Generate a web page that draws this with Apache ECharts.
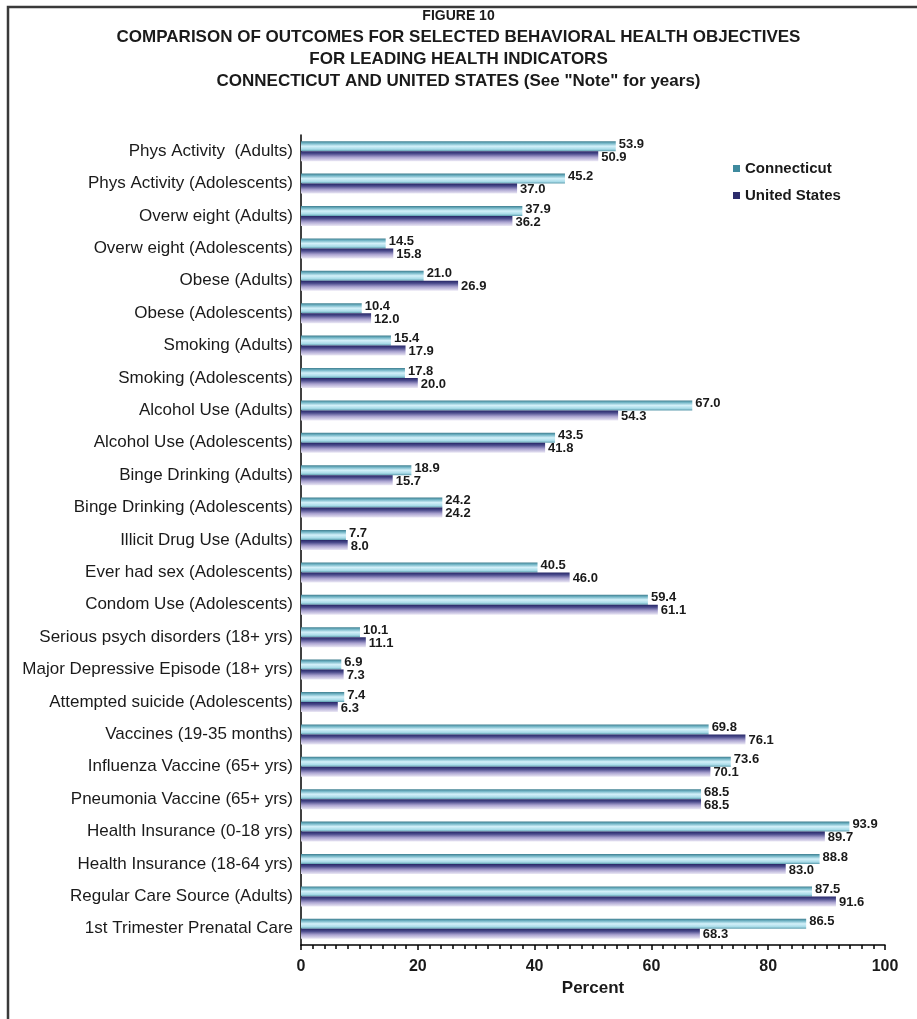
<!DOCTYPE html>
<html>
<head>
<meta charset="utf-8">
<script src="https://cdn.jsdelivr.net/npm/echarts@6/dist/echarts.min.js"></script>
<style>
  html, body { margin: 0; padding: 0; background: #fff; }
  #chart { width: 917px; height: 1019px; }
</style>
</head>
<body>
<div id="chart"></div>
<script>
// Leading health indicator outcomes, Connecticut vs United States (percent)
const categories = [
  'Phys Activity  (Adults)',
  'Phys Activity (Adolescents)',
  'Overw eight (Adults)',
  'Overw eight (Adolescents)',
  'Obese (Adults)',
  'Obese (Adolescents)',
  'Smoking (Adults)',
  'Smoking (Adolescents)',
  'Alcohol Use (Adults)',
  'Alcohol Use (Adolescents)',
  'Binge Drinking (Adults)',
  'Binge Drinking (Adolescents)',
  'Illicit Drug Use (Adults)',
  'Ever had sex (Adolescents)',
  'Condom Use (Adolescents)',
  'Serious psych disorders (18+ yrs)',
  'Major Depressive Episode (18+ yrs)',
  'Attempted suicide (Adolescents)',
  'Vaccines (19-35 months)',
  'Influenza Vaccine (65+ yrs)',
  'Pneumonia Vaccine (65+ yrs)',
  'Health Insurance (0-18 yrs)',
  'Health Insurance (18-64 yrs)',
  'Regular Care Source (Adults)',
  '1st Trimester Prenatal Care'
];
const connecticut = [53.9, 45.2, 37.9, 14.5, 21.0, 10.4, 15.4, 17.8, 67.0, 43.5, 18.9, 24.2, 7.7, 40.5, 59.4, 10.1, 6.9, 7.4, 69.8, 73.6, 68.5, 93.9, 88.8, 87.5, 86.5];
const unitedStates = [50.9, 37.0, 36.2, 15.8, 26.9, 12.0, 17.9, 20.0, 54.3, 41.8, 15.7, 24.2, 8.0, 46.0, 61.1, 11.1, 7.3, 6.3, 76.1, 70.1, 68.5, 89.7, 83.0, 91.6, 68.3];
const seriesNames = ['Connecticut', 'United States'];
const titleLines = [
  'FIGURE 10',
  'COMPARISON OF OUTCOMES FOR SELECTED BEHAVIORAL HEALTH OBJECTIVES',
  'FOR LEADING HEALTH INDICATORS',
  'CONNECTICUT AND UNITED STATES (See "Note" for years)'
];
const axisTitle = 'Percent';

const FONT = '"Liberation Sans", Arial, sans-serif';
const INK = '#1a1a1a';

const ctFill = new echarts.graphic.LinearGradient(0, 0, 0, 1, [
  { offset: 0, color: '#3f7d8e' },
  { offset: 0.2, color: '#6fb3c4' },
  { offset: 0.5, color: '#d4f1fa' },
  { offset: 0.8, color: '#a8dbe8' },
  { offset: 1, color: '#5c9cad' }
]);
const usFill = new echarts.graphic.LinearGradient(0, 0, 0, 1, [
  { offset: 0, color: '#262666' },
  { offset: 0.25, color: '#4b4b8c' },
  { offset: 0.6, color: '#aaa3d0' },
  { offset: 1, color: '#ebe8f5' }
]);

const valueLabel = (dy) => ({
  show: true,
  position: 'right',
  offset: [0, dy],
  distance: 3,
  fontFamily: FONT,
  fontSize: 13,
  fontWeight: 'bold',
  color: INK,
  formatter: (p) => p.value.toFixed(1)
});

// one title entry per line so the heading block keeps its own spacing
const titleTops = [9, 29, 51, 73];
const titles = titleLines.map((line, i) => ({
  text: line,
  left: 'center',
  top: titleTops[i],
  padding: 0,
  textStyle: { fontFamily: FONT, fontSize: i === 0 ? 14 : 17, fontWeight: 'bold', color: INK }
}));

const chart = echarts.init(document.getElementById('chart'), null, { renderer: 'canvas' });
chart.setOption({
  backgroundColor: '#ffffff',
  animation: false,
  title: titles,
  legend: {
    orient: 'vertical',
    left: 728,
    top: 156,
    itemWidth: 7,
    itemHeight: 7,
    itemGap: 12,
    icon: 'rect',
    data: [
      { name: seriesNames[0], itemStyle: { color: '#3f8a9e' } },
      { name: seriesNames[1], itemStyle: { color: '#2c2c6c' } }
    ],
    textStyle: { fontFamily: FONT, fontSize: 15, fontWeight: 'bold', color: INK }
  },
  grid: { left: 301, right: 32, top: 135, bottom: 74, containLabel: false },
  xAxis: {
    type: 'value',
    min: 0,
    max: 100,
    interval: 20,
    name: axisTitle,
    nameLocation: 'middle',
    nameGap: 31,
    nameTextStyle: { fontFamily: FONT, fontSize: 17, fontWeight: 'bold', color: INK },
    axisLine: { show: true, lineStyle: { color: '#000', width: 1.5 } },
    axisTick: { show: true, length: 5, lineStyle: { color: '#000', width: 1.5 } },
    minorTick: { show: true, splitNumber: 10, length: 4, lineStyle: { color: '#000', width: 1.5 } },
    splitLine: { show: false },
    axisLabel: { fontFamily: FONT, fontSize: 16, fontWeight: 'bold', color: INK, margin: 14 }
  },
  yAxis: {
    type: 'category',
    data: categories,
    inverse: true,
    axisLine: { show: true, lineStyle: { color: '#000', width: 1.5 } },
    axisTick: { show: false },
    axisLabel: { fontFamily: FONT, fontSize: 17, color: INK, margin: 8 }
  },
  series: [
    {
      name: seriesNames[0],
      type: 'bar',
      data: connecticut,
      barWidth: 10,
      barGap: '0%',
      itemStyle: { color: ctFill },
      label: valueLabel(-2)
    },
    {
      name: seriesNames[1],
      type: 'bar',
      data: unitedStates,
      barWidth: 10,
      itemStyle: { color: usFill },
      label: valueLabel(1)
    }
  ],
  graphic: [
    {
      type: 'polyline',
      shape: { points: [[8, 1019], [8, 7], [917, 7]] },
      style: { stroke: '#3a3a3a', lineWidth: 2.5, fill: null },
      silent: true
    }
  ]
});
</script>
</body>
</html>
